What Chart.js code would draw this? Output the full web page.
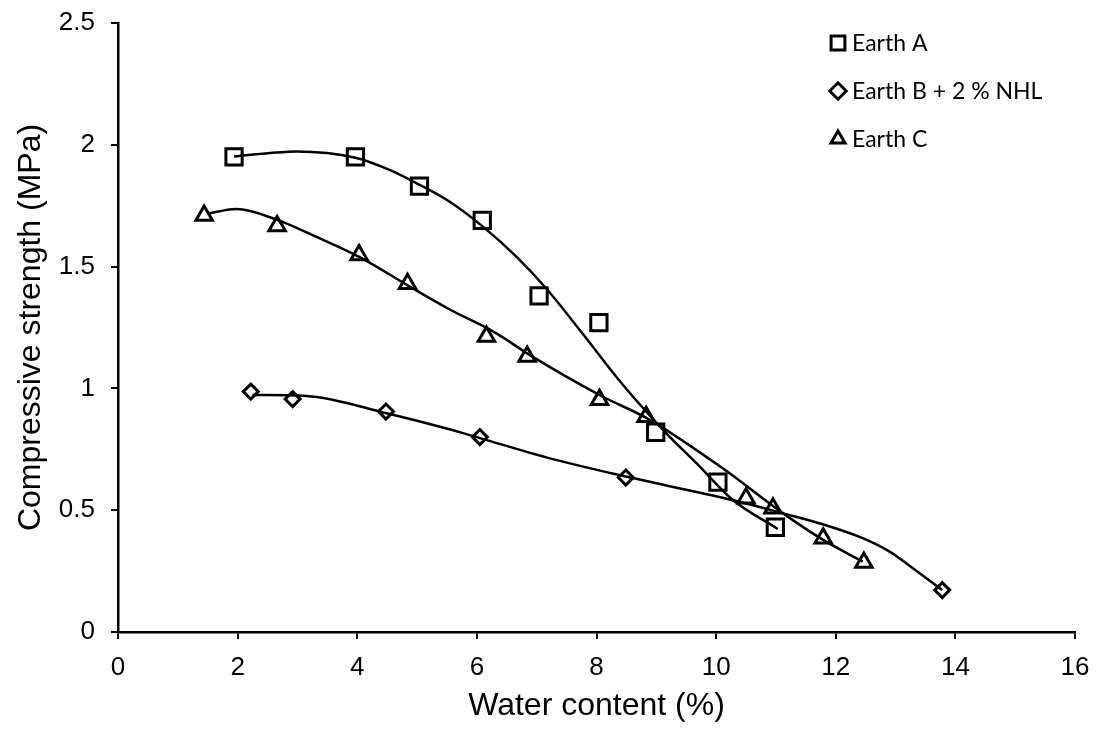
<!DOCTYPE html>
<html>
<head>
<meta charset="utf-8">
<script src="https://cdn.jsdelivr.net/npm/chart.js@4/dist/chart.umd.min.js"></script>
<style>
	body { margin: 0; background: #fff; }
	#wrap { width: 1098px; height: 740px; position: relative; }
</style>
</head>
<body>
<div id="wrap"><canvas id="strengthChart"></canvas></div>
<script>

// measured points
const earthAX = [1.94, 3.97, 5.04, 6.09, 7.04, 8.04, 8.99, 10.03, 10.99];
const earthAY = [1.95, 1.95, 1.83, 1.69, 1.38, 1.27, 0.82, 0.615, 0.43];

const earthBX = [2.22, 2.92, 4.48, 6.05, 8.49, 13.78];
const earthBY = [0.987, 0.956, 0.905, 0.80, 0.634, 0.172];

const earthCX = [1.44, 2.66, 4.03, 4.84, 6.16, 6.84, 8.05, 8.83, 10.50, 10.95, 11.79, 12.47];
const earthCY = [1.71, 1.667, 1.548, 1.43, 1.213, 1.131, 0.953, 0.884, 0.549, 0.508, 0.385, 0.285];

// trend curves
const trendAX = [1.94, 2.54, 2.98, 3.97, 4.54, 5.04, 5.54, 6.10, 6.66, 7.16, 7.77, 8.33, 8.83, 9.22, 9.67, 10.28, 11.03];
const trendAY = [1.952, 1.966, 1.973, 1.947, 1.897, 1.836, 1.767, 1.664, 1.541, 1.41, 1.224, 1.048, 0.905, 0.802, 0.693, 0.542, 0.423];

const trendBX = [2.25, 3.15, 4.49, 5.54, 6.05, 7.16, 8.49, 10.39, 11.12, 11.9, 12.45, 12.9, 13.29, 13.78];
const trendBY = [0.973, 0.969, 0.898, 0.832, 0.796, 0.717, 0.638, 0.535, 0.487, 0.433, 0.385, 0.33, 0.262, 0.172];

const trendCX = [1.53, 1.98, 2.66, 3.31, 4.04, 4.85, 5.54, 6.32, 6.84, 8.05, 8.89, 10.11, 11.12, 11.79, 12.45];
const trendCY = [1.719, 1.736, 1.692, 1.623, 1.539, 1.422, 1.325, 1.227, 1.144, 0.973, 0.871, 0.672, 0.487, 0.378, 0.289];

const seriesNames = ['Earth A', 'Earth B + 2 % NHL', 'Earth C'];

const xTicks = [0, 2, 4, 6, 8, 10, 12, 14, 16];
const yTicks = [0, 0.5, 1, 1.5, 2, 2.5];

function pts(xs, ys) {
	return xs.map((x, i) => ({ x: x, y: ys[i] }));
}

function markerSet(label, xs, ys, style, radius) {
	return {
		label: label,
		data: pts(xs, ys),
		showLine: false,
		pointStyle: style,
		pointRadius: radius,
		pointHoverRadius: radius,
		pointBorderWidth: 3,
		pointBorderColor: '#000',
		pointBackgroundColor: 'rgba(0,0,0,0)',
		order: 1
	};
}

function trendSet(xs, ys) {
	return {
		label: '',
		data: pts(xs, ys),
		showLine: true,
		cubicInterpolationMode: 'monotone',
		borderColor: '#000',
		borderWidth: 2.5,
		pointRadius: 0,
		pointHoverRadius: 0,
		order: 2
	};
}

// legend drawn in the upper right corner of the plot
const cornerLegend = {
	id: 'cornerLegend',
	afterDraw(chart) {
		const ctx = chart.ctx;
		const rows = [0, 1, 2];
		ctx.save();
		ctx.textBaseline = 'middle';
		rows.forEach((r) => {
			const ds = chart.data.datasets[r];
			const y = 43 + r * 48;
			ctx.fillStyle = 'rgba(0,0,0,0)';
			ctx.strokeStyle = '#000';
			ctx.lineWidth = 3;
			Chart.helpers.drawPoint(ctx, {
				pointStyle: ds.pointStyle,
				radius: ds.pointRadius * (ds.pointStyle === 'rectRot' ? 1.1 : 0.85),
				borderWidth: 3,
				rotation: 0
			}, 838, y);
			ctx.font = '23px Lato, "Open Sans", sans-serif';
			ctx.fillStyle = '#000';
			ctx.fillText(ds.label, 852, y + 1);
		});
		ctx.restore();
	}
};

const ctx = document.getElementById('strengthChart').getContext('2d');

Chart.defaults.font.family = '"Liberation Sans", Arial, sans-serif';
Chart.defaults.color = '#000';

new Chart(ctx, {
	type: 'scatter',
	data: {
		datasets: [
			markerSet(seriesNames[0], earthAX, earthAY, 'rect', 11.5),
			markerSet(seriesNames[1], earthBX, earthBY, 'rectRot', 7.5),
			markerSet(seriesNames[2], earthCX, earthCY, 'triangle', 9.5),
			trendSet(trendAX, trendAY),
			trendSet(trendBX, trendBY),
			trendSet(trendCX, trendCY)
		]
	},
	options: {
		responsive: true,
		maintainAspectRatio: false,
		animation: false,
		layout: { padding: { top: 23, right: 23, left: 0, bottom: 0 } },
		plugins: {
			legend: { display: false },
			tooltip: { enabled: false }
		},
		scales: {
			x: {
				type: 'linear',
				min: 0,
				max: 16,
				afterFit: (s) => { s.height = 108; s.paddingLeft = 0; s.paddingRight = 0; },
				afterBuildTicks: (s) => { s.ticks = xTicks.map(v => ({ value: v })); },
				ticks: { font: { size: 26 }, padding: 13, maxRotation: 0, callback: (v) => String(v) },
				grid: { drawOnChartArea: false, drawTicks: true, tickLength: 7, color: '#000', lineWidth: 2 },
				border: { color: '#000', width: 2.5 },
				title: {
					display: true,
					text: 'Water content (%)',
					font: { size: 32 },
					padding: { top: 0, bottom: 15 }
				}
			},
			y: {
				type: 'linear',
				min: 0,
				max: 2.5,
				afterFit: (s) => { s.width = 118; s.paddingTop = 0; s.paddingBottom = 0; },
				afterBuildTicks: (s) => { s.ticks = yTicks.map(v => ({ value: v })); },
				ticks: { font: { size: 26 }, padding: 16, callback: (v) => String(v) },
				grid: { drawOnChartArea: false, drawTicks: true, tickLength: 7, color: '#000', lineWidth: 2 },
				border: { color: '#000', width: 2.5 },
				title: {
					display: true,
					text: 'Compressive strength (MPa)',
					font: { size: 32 },
					padding: { top: 12, bottom: 0 }
				}
			}
		}
	},
	plugins: [cornerLegend]
});
</script>
</body>
</html>
